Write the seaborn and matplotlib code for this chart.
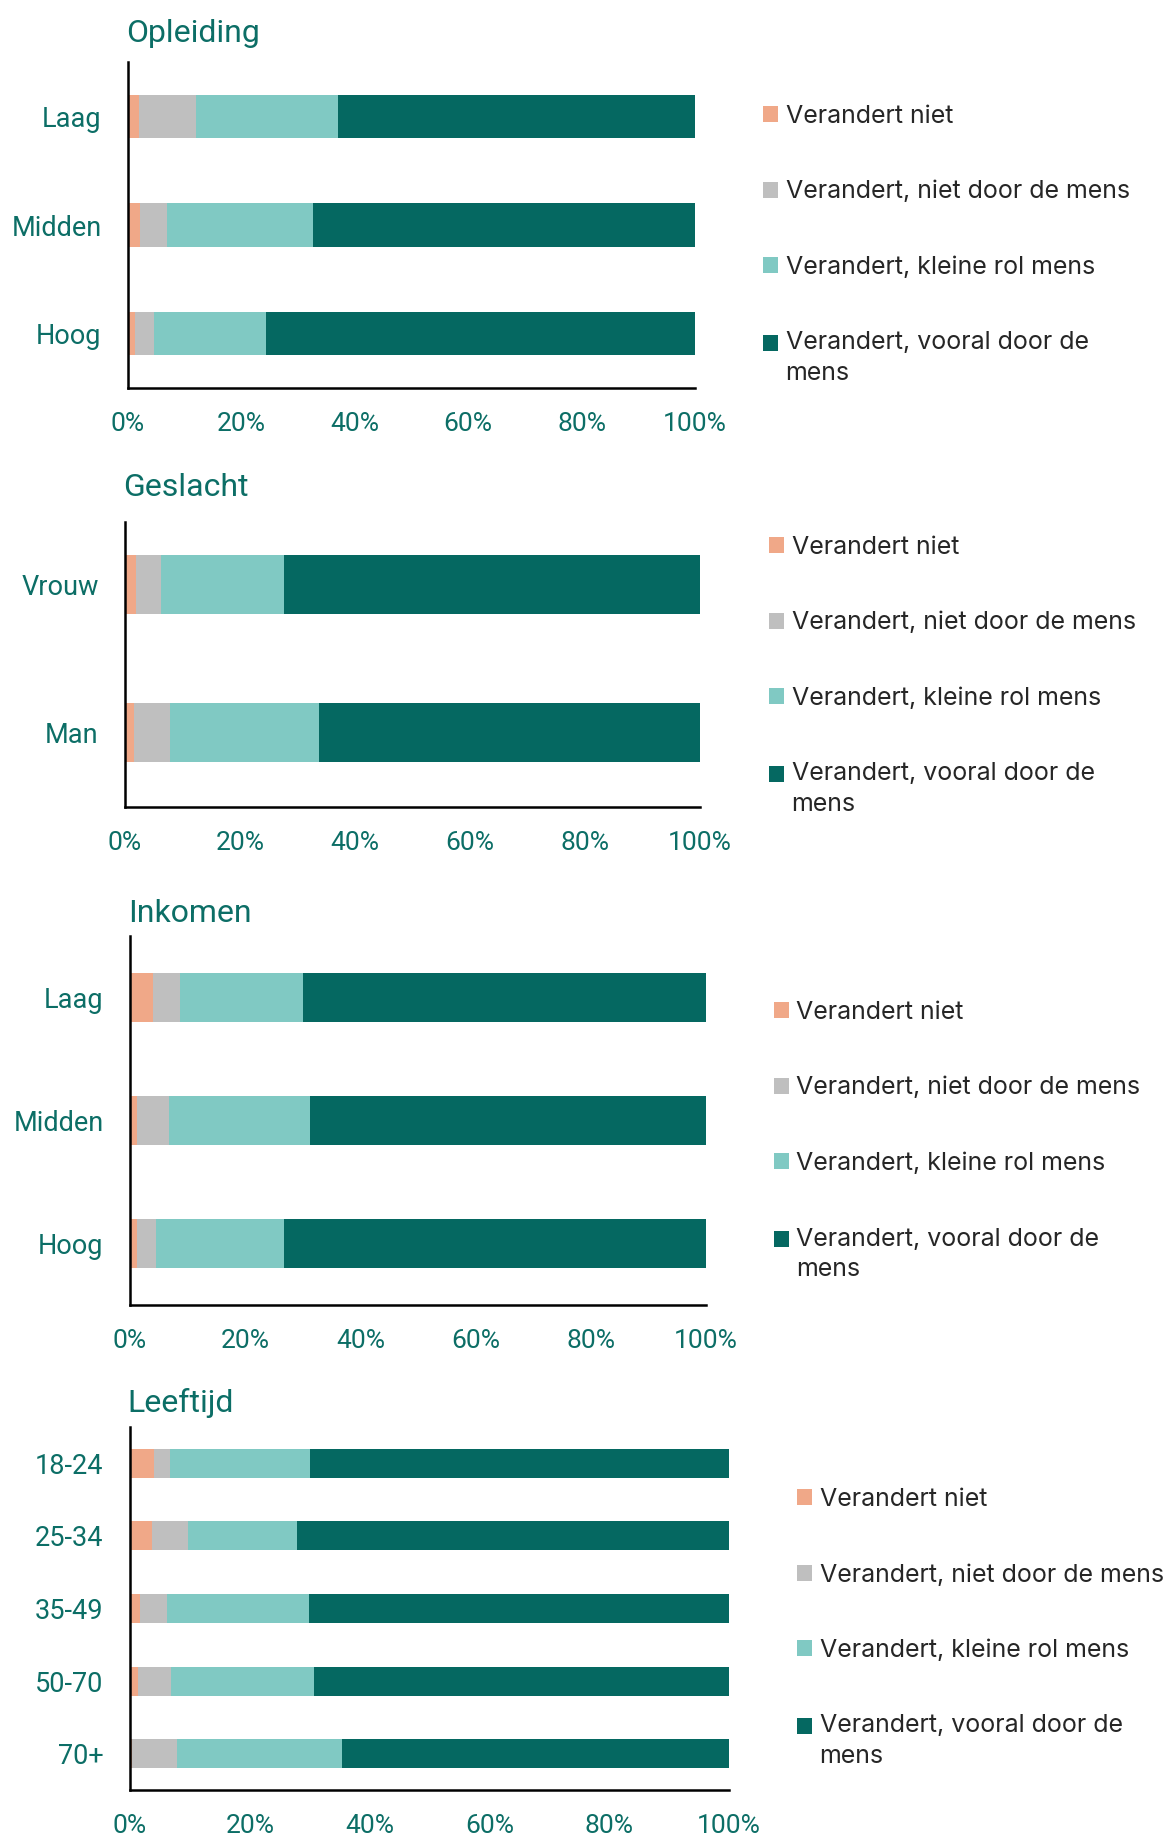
import pandas as pd
import numpy as np
import matplotlib
matplotlib.use("Agg")
import matplotlib.pyplot as plt
from matplotlib.patches import Rectangle
from matplotlib.legend_handler import HandlerPatch
import seaborn as sns

# legend labels / colours
segments = ["Verandert niet", "Verandert, niet door de mens",
            "Verandert, kleine rol mens", "Verandert, vooral door de\nmens"]
colors = ["#F0A888", "#BFBFBF", "#80C9C3", "#056861"]
teal_text = "#0C6E66"

# percentages per panel
opleiding_cats = ["Laag", "Midden", "Hoog"]
opleiding_niet = [1.9, 2.2, 1.3]
opleiding_natuur = [10.1, 4.6, 3.2]
opleiding_klein = [25.1, 25.8, 19.8]
opleiding_mens = [62.9, 67.4, 75.7]

geslacht_cats = ["Vrouw", "Man"]
geslacht_niet = [1.9, 1.6]
geslacht_natuur = [4.3, 6.2]
geslacht_klein = [21.5, 26.0]
geslacht_mens = [72.3, 66.2]

inkomen_cats = ["Laag", "Midden", "Hoog"]
inkomen_niet = [4.0, 1.2, 1.3]
inkomen_natuur = [4.6, 5.5, 3.3]
inkomen_klein = [21.5, 24.6, 22.1]
inkomen_mens = [69.9, 68.7, 73.3]

leeftijd_cats = ["18-24", "25-34", "35-49", "50-70", "70+"]
leeftijd_niet = [4.0, 3.7, 1.7, 1.4, 0.3]
leeftijd_natuur = [2.6, 6.0, 4.4, 5.4, 7.5]
leeftijd_klein = [23.4, 18.1, 23.8, 24.0, 27.6]
leeftijd_mens = [70.0, 72.2, 70.1, 69.2, 64.6]

panels = [
    ("Opleiding", opleiding_cats, [opleiding_niet, opleiding_natuur, opleiding_klein, opleiding_mens]),
    ("Geslacht", geslacht_cats, [geslacht_niet, geslacht_natuur, geslacht_klein, geslacht_mens]),
    ("Inkomen", inkomen_cats, [inkomen_niet, inkomen_natuur, inkomen_klein, inkomen_mens]),
    ("Leeftijd", leeftijd_cats, [leeftijd_niet, leeftijd_natuur, leeftijd_klein, leeftijd_mens]),
]

sns.set_style("white")
plt.rcParams["font.family"] = ["Roboto", "DejaVu Sans"]

W, H = 1176, 1838
fig = plt.figure(figsize=(W / 100, H / 100), dpi=100)

# layout in pixels: axes box (left, right, top, bottom), title y, legend anchor (x, y), ylim top
layout = [
    ((128, 695, 62, 388), 34, (763, 105), -0.5),
    ((125, 700, 522, 807), 488, (769, 536), -0.42),
    ((130, 706, 936, 1305), 913, (774, 1001), -0.5),
    ((130, 729, 1427, 1790), 1403, (797, 1488), -0.5),
]


def lifted_square(legend, orig_handle, xdescent, ydescent, width, height, fontsize):
    # square next to the first line of a two-line label
    return Rectangle((-xdescent, -ydescent + 0.62 * fontsize), width, height)


for (title, cats, series), (box, ty, leg, ytop) in zip(panels, layout):
    l, r, t, b = box
    ax = fig.add_axes([l / W, 1 - b / H, (r - l) / W, (b - t) / H])

    df = pd.DataFrame({"cat": cats})
    cum = np.cumsum(np.array(series), axis=0)
    # draw from the largest cumulative sum down so that the smaller ones sit on top
    for i in range(len(segments) - 1, -1, -1):
        df["val"] = cum[i]
        sns.barplot(data=df, x="val", y="cat", order=cats, orient="h",
                    color=colors[i], width=0.4, linewidth=0, saturation=1,
                    label=segments[i], ax=ax)

    ax.set_xlim(0, 100)
    ax.set_ylim(len(cats) - 0.5, ytop)
    ax.set_xticks([0, 20, 40, 60, 80, 100])
    ax.set_xticklabels([f"{v}%" for v in range(0, 101, 20)])
    ax.set_xlabel("")
    ax.set_ylabel("")
    for s in ["top", "right"]:
        ax.spines[s].set_visible(False)
    for s in ["left", "bottom"]:
        ax.spines[s].set_color("black")
        ax.spines[s].set_linewidth(1.8)
    ax.tick_params(axis="x", direction="in", length=7, width=1.8, color="black",
                   pad=17, labelsize=19, labelcolor=teal_text)
    ax.tick_params(axis="y", length=0, pad=19, labelsize=19.5, labelcolor=teal_text)

    fig.text(l / W - 0.002, 1 - ty / H, title, fontsize=23, color=teal_text,
             va="center", ha="left")

    handles, labels = ax.get_legend_handles_labels()
    handles = [h.patches[0] for h in handles[::-1]]
    labels = labels[::-1]
    lg = ax.legend(handles, labels, loc="upper left",
                   bbox_to_anchor=(leg[0] / W, 1 - leg[1] / H),
                   bbox_transform=fig.transFigure, frameon=False, borderpad=0,
                   borderaxespad=0, handlelength=0.6, handleheight=0.6,
                   handletextpad=0.3, labelspacing=2.1,
                   handler_map={handles[-1]: HandlerPatch(patch_func=lifted_square)},
                   prop={"family": ["Inter", "DejaVu Sans"], "size": 18})
    for txt in lg.get_texts():
        txt.set_linespacing(1.4)

fig.savefig("out.png", dpi=100)
